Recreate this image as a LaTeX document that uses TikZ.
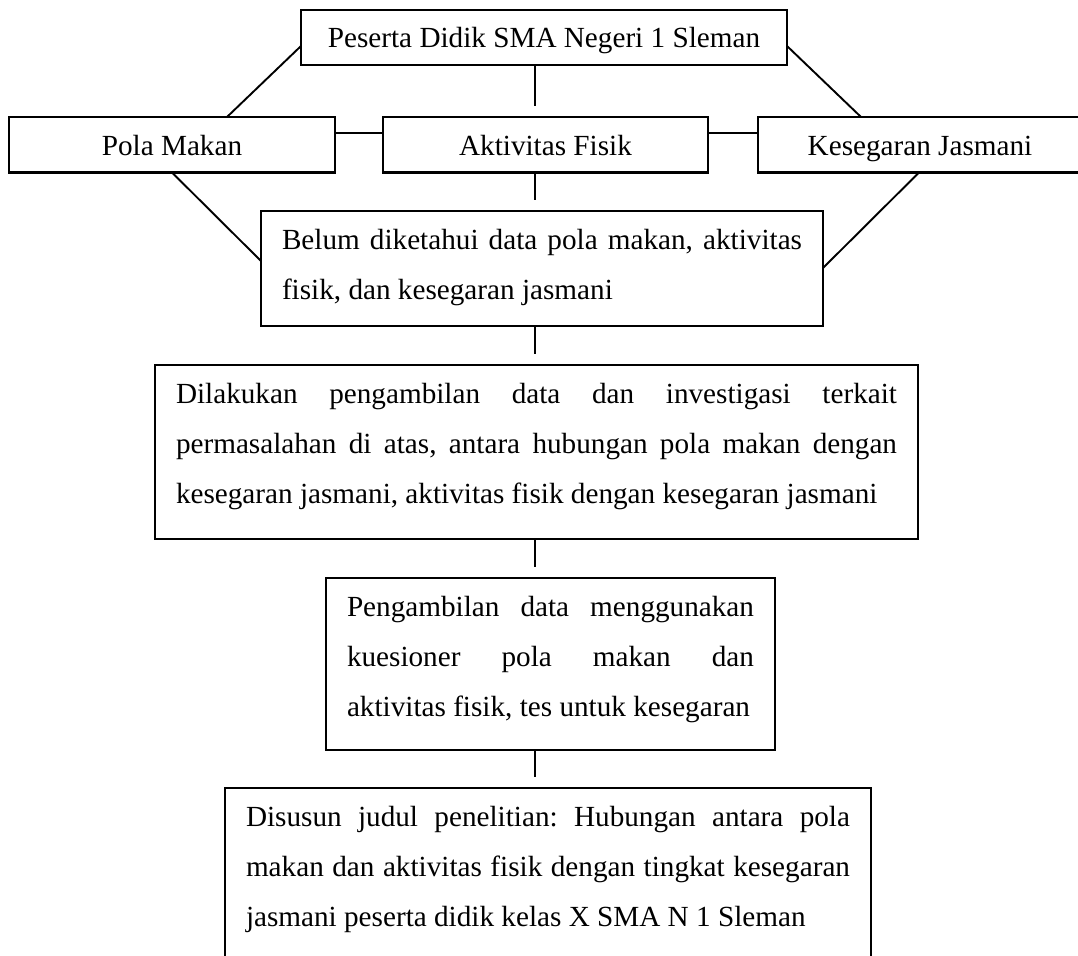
\documentclass[tikz,border=0pt]{standalone}
\usepackage{fontspec}
\setmainfont{Liberation Serif}
\usetikzlibrary{calc}

\begin{document}
\begin{tikzpicture}[x=1pt, y=-1pt,
  kotak/.style={draw, line width=2.6pt, inner xsep=21pt, inner ysep=0pt, outer sep=0pt,
    anchor=north west, text height=38pt, font=\fontsize{29.2}{50.3}\selectfont\frenchspacing},
  garis/.style={line width=1.9pt}]
  \useasboundingbox (0,0) rectangle (1078,955);
  \clip (0,0) rectangle (1078,955);
  \coordinate (sumbu) at (535,0);

  % Subjek dan variabel penelitian
  \node[kotak, minimum width=486pt, text depth=17pt] (peserta) at (301,10) {Peserta Didik SMA Negeri 1 Sleman};
  \node[kotak, minimum width=326pt, text depth=17.5pt] (pola) at (9,117) {Pola Makan};
  \node[kotak, minimum width=325pt, text depth=17.5pt] (aktivitas) at (383,117) {Aktivitas Fisik};
  \node[kotak, minimum width=324pt, text depth=17.5pt] (kesegaran) at (758,117) {Kesegaran Jasmani};

  % Alur permasalahan sampai judul
  \node[kotak, text width=520pt, text depth=77pt, align=justify] (belum) at (261,211) {Belum diketahui data pola makan, aktivitas\linebreak fisik, dan kesegaran jasmani};
  \node[kotak, text width=721pt, text depth=136pt, align=justify] (investigasi) at (155,365) {Dilakukan pengambilan data dan investigasi terkait\linebreak permasalahan di atas, antara hubungan pola makan dengan\linebreak kesegaran jasmani, aktivitas fisik dengan kesegaran jasmani};
  \node[kotak, text width=407pt, text depth=134pt, align=justify] (instrumen) at (326,578) {Pengambilan data menggunakan\linebreak kuesioner pola makan dan\linebreak aktivitas fisik, tes untuk kesegaran};
  \node[kotak, text width=604pt, text depth=136pt, align=justify] (judul) at (225,788) {Disusun judul penelitian: Hubungan antara pola\linebreak makan dan aktivitas fisik dengan tingkat kesegaran\linebreak jasmani peserta didik kelas X SMA N 1 Sleman};

  % Garis penghubung
  \draw[garis] ([yshift=-36pt]peserta.north west) -- ([xshift=218pt]pola.north west);
  \draw[garis] ([yshift=-36pt]peserta.north east) -- ([xshift=103pt]kesegaran.north west);
  \draw[garis] (peserta.south -| sumbu) -- ($(aktivitas.north -| sumbu)+(0,-11)$);
  \draw[garis] ([yshift=-16pt]pola.north east) -- ([yshift=-16pt]aktivitas.north west);
  \draw[garis] ([yshift=-16pt]aktivitas.north east) -- ([yshift=-16pt]kesegaran.north west);
  \draw[garis] ([xshift=163pt]pola.south west) -- ([yshift=-50pt]belum.north west);
  \draw[garis] ([xshift=161pt]kesegaran.south west) -- ([yshift=-57pt]belum.north east);
  \draw[garis] (aktivitas.south -| sumbu) -- ($(belum.north -| sumbu)+(0,-11)$);
  \draw[garis] (belum.south -| sumbu) -- ($(investigasi.north -| sumbu)+(0,-11)$);
  \draw[garis] (investigasi.south -| sumbu) -- ($(instrumen.north -| sumbu)+(0,-11)$);
  \draw[garis] (instrumen.south -| sumbu) -- ($(judul.north -| sumbu)+(0,-11)$);
\end{tikzpicture}
\end{document}
